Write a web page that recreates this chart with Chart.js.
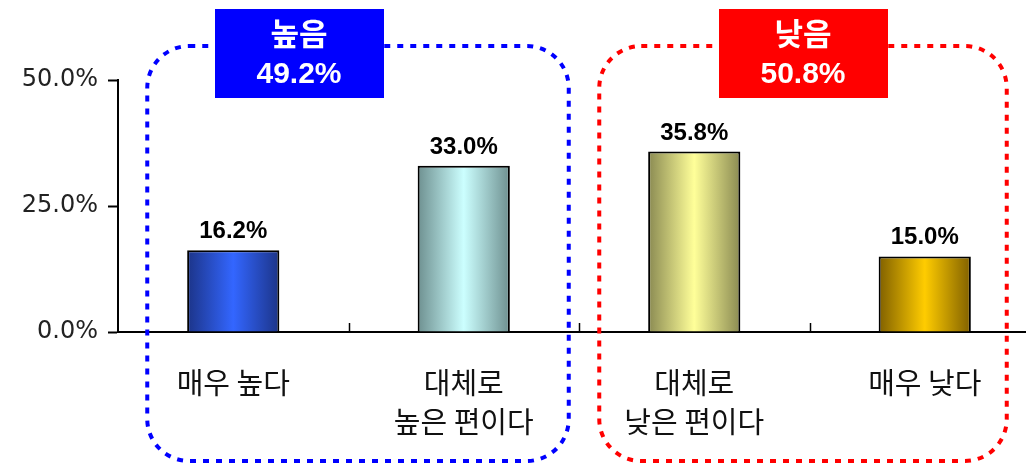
<!DOCTYPE html>
<html>
<head>
<meta charset="utf-8">
<script src="https://cdn.jsdelivr.net/npm/chart.js@4"></script>
<style>
  html, body { margin: 0; padding: 0; background: #fff; overflow: hidden; }
  #wrap { width: 1040px; height: 464px; }
</style>
</head>
<body>
<div id="wrap"><canvas id="chart"></canvas></div>
<script>
// 데이터
const categories = [['매우 높다'], ['대체로', '높은 편이다'], ['대체로', '낮은 편이다'], ['매우 낮다']];
const values = [16.2, 33.0, 35.8, 15.0];
const yTicks = [0, 25, 50];

// 그룹 (높음 / 낮음)
const groupNames = ['높음', '낮음'];
const groupTotals = [49.2, 50.8];
const groupColors = ['#0000ff', '#ff0000'];

// 막대 그라데이션 색 (가장자리, 가운데)
const barEdgeColors = ['#1c3488', '#6e9090', '#8a8a52', '#806000'];
const barCenterColors = ['#3366ff', '#ccffff', '#ffff99', '#ffcc00'];

const BAR_FRACTION = 0.4;

function barGradient(context) {
  const chart = context.chart;
  const xScale = chart.scales.x;
  const i = context.dataIndex;
  if (!xScale || i === undefined) return barCenterColors[0];
  const cx = xScale.getPixelForValue(i);
  const half = (xScale.width / categories.length) * BAR_FRACTION / 2;
  if (!isFinite(cx) || !isFinite(half) || half <= 0) return barCenterColors[i];
  const g = chart.ctx.createLinearGradient(cx - half, 0, cx + half, 0);
  g.addColorStop(0, barEdgeColors[i]);
  g.addColorStop(0.5, barCenterColors[i]);
  g.addColorStop(1, barEdgeColors[i]);
  return g;
}

function roundRectPath(ctx, x, y, w, h, r) {
  ctx.beginPath();
  ctx.moveTo(x + r, y);
  ctx.lineTo(x + w - r, y);
  ctx.arcTo(x + w, y, x + w, y + r, r);
  ctx.lineTo(x + w, y + h - r);
  ctx.arcTo(x + w, y + h, x + w - r, y + h, r);
  ctx.lineTo(x + r, y + h);
  ctx.arcTo(x, y + h, x, y + h - r, r);
  ctx.lineTo(x, y + r);
  ctx.arcTo(x, y, x + r, y, r);
  ctx.closePath();
}

// 축 위쪽 작은 눈금 + 값 라벨 + 점선 그룹 박스
const decorPlugin = {
  id: 'decor',
  afterDatasetsDraw(chart) {
    const ctx = chart.ctx;
    const x = chart.scales.x;
    const y = chart.scales.y;
    const base = y.getPixelForValue(0);

    // 범주 경계 눈금 (위쪽)
    ctx.save();
    ctx.strokeStyle = '#000';
    ctx.lineWidth = 1.5;
    for (let i = 1; i < categories.length; i++) {
      const px = Math.round(x.getPixelForValue(i - 0.5)) + 0.5;
      ctx.beginPath();
      ctx.moveTo(px, base);
      ctx.lineTo(px, base - 9);
      ctx.stroke();
    }
    ctx.restore();

    // 값 라벨
    const meta = chart.getDatasetMeta(0);
    ctx.save();
    ctx.fillStyle = '#000';
    ctx.font = 'bold 24px "Liberation Sans", Arial, sans-serif';
    ctx.textAlign = 'center';
    ctx.textBaseline = 'alphabetic';
    meta.data.forEach((bar, i) => {
      ctx.fillText(values[i].toFixed(1) + '%', bar.x, bar.y - 12);
    });
    ctx.restore();

    // 점선 박스
    const boxes = [
      { from: 0, to: 1, padL: 86, padR: 105, labelDx: -59 },
      { from: 2, to: 3, padL: 95, padR: 82, labelDx: 0 }
    ];
    boxes.forEach((b, gi) => {
      const left = x.getPixelForValue(b.from) - b.padL;
      const right = x.getPixelForValue(b.to) + b.padR;
      const top = 46;
      const bottom = 461;
      ctx.save();
      ctx.strokeStyle = groupColors[gi];
      ctx.lineWidth = 4;
      ctx.setLineDash([6, 7]);
      roundRectPath(ctx, left, top, right - left, bottom - top, 42);
      ctx.stroke();
      ctx.restore();

      // 라벨 상자
      const cx = (left + right) / 2 + b.labelDx;
      const w = 169, h = 89;
      ctx.save();
      ctx.fillStyle = groupColors[gi];
      ctx.fillRect(Math.round(cx - w / 2), 9, w, h);
      ctx.fillStyle = '#fff';
      ctx.textAlign = 'center';
      ctx.textBaseline = 'middle';
      ctx.font = 'bold 31px "Noto Sans CJK KR", sans-serif';
      ctx.fillText(groupNames[gi], cx, 33);
      ctx.font = 'bold 30px "Liberation Sans", Arial, sans-serif';
      ctx.fillText(groupTotals[gi].toFixed(1) + '%', cx, 75);
      ctx.restore();
    });
  }
};

new Chart(document.getElementById('chart'), {
  type: 'bar',
  data: {
    labels: categories,
    datasets: [{
      data: values,
      backgroundColor: barGradient,
      borderColor: '#000',
      borderWidth: 2,
      borderSkipped: 'bottom',
      barPercentage: 0.4,
      categoryPercentage: 1.0
    }]
  },
  options: {
    responsive: true,
    maintainAspectRatio: false,
    animation: false,
    layout: { padding: { top: 80, right: 0, bottom: 0, left: 0 } },
    plugins: {
      legend: { display: false },
      tooltip: { enabled: false }
    },
    scales: {
      x: {
        grid: { display: false },
        border: { display: true, color: '#000', width: 2 },
        ticks: {
          color: '#111',
          padding: 23,
          maxRotation: 0,
          autoSkip: false,
          font: { family: '"Noto Sans CJK KR", sans-serif', size: 29, lineHeight: 1.35 }
        },
        afterFit(scale) { scale.height = 132; }
      },
      y: {
        min: 0,
        max: 50,
        afterBuildTicks(scale) { scale.ticks = yTicks.map(v => ({ value: v })); },
        grid: { drawOnChartArea: false, drawTicks: true, tickLength: 10, color: '#000', tickWidth: 2 },
        border: { display: true, color: '#000', width: 2 },
        ticks: {
          color: '#222',
          padding: 10,
          font: { family: '"DejaVu Sans", sans-serif', size: 24 },
          callback: v => v.toFixed(1) + '%'
        },
        afterFit(scale) { scale.width = 118; }
      }
    }
  },
  plugins: [decorPlugin]
});
</script>
</body>
</html>
